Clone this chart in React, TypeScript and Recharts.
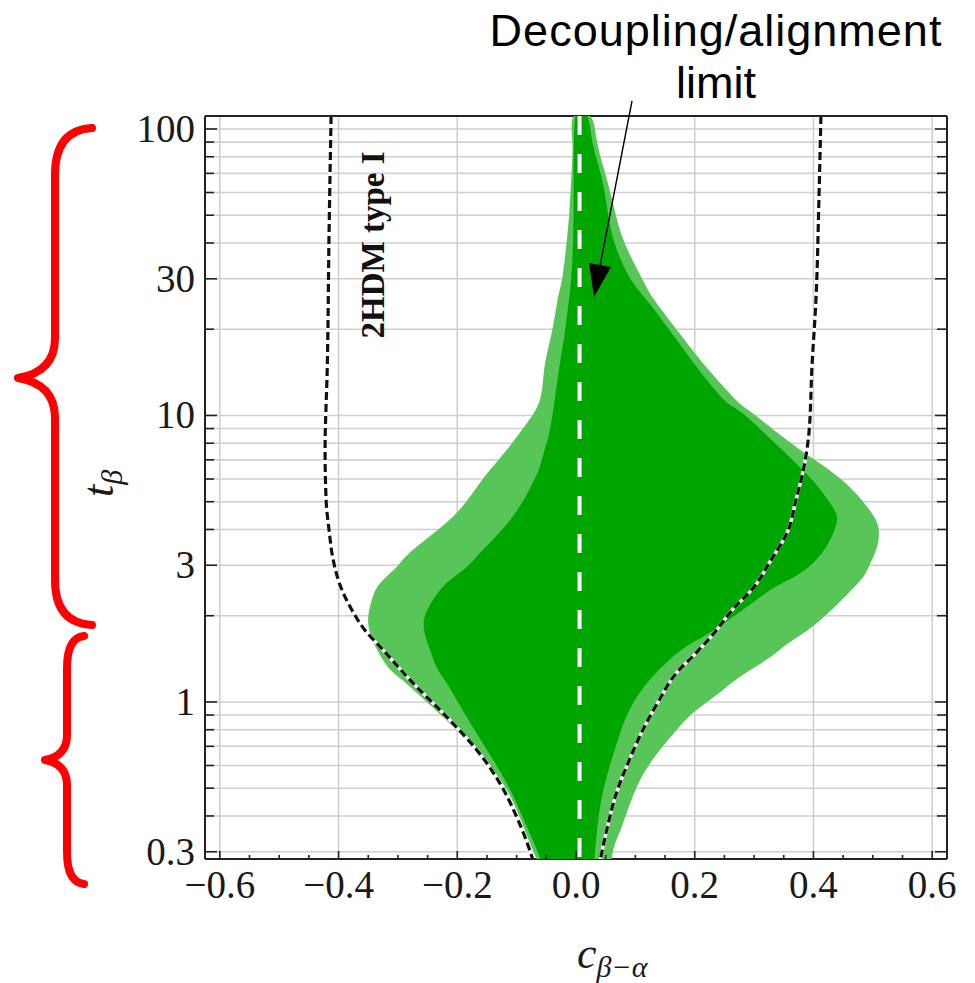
import React from 'react';
import { ComposedChart, Scatter, XAxis, YAxis, CartesianGrid } from 'recharts';

const W = 975;
const H = 983;

type Pt = { x: number; y: number };

// c_{β−α} axis
const xMajorTicks = [-0.6, -0.4, -0.2, 0, 0.2, 0.4, 0.6];
const xMajorLabels = ['−0.6', '−0.4', '−0.2', '0.0', '0.2', '0.4', '0.6'];
const xMinorTicks = [
  -0.55, -0.5, -0.45, -0.35, -0.3, -0.25, -0.15, -0.1, -0.05,
  0.05, 0.1, 0.15, 0.25, 0.3, 0.35, 0.45, 0.5, 0.55,
];
const xDomain: [number, number] = [-0.625, 0.625];

// t_β axis (log)
const yMajorTicks = [0.3, 1, 3, 10, 30, 100];
const yMajorLabels = ['0.3', '1', '3', '10', '30', '100'];
const yMinorTicks = [0.4, 0.5, 0.6, 0.7, 0.8, 0.9, 2, 4, 5, 6, 7, 8, 9, 20, 40, 50, 60, 70, 80, 90];
const yDomain: [number, number] = [0.283, 111];

// alignment limit line (c_{β−α} ≈ 0)
const alignmentLine: Pt[] = [
  { x: 0.006, y: 0.283 },
  { x: 0.006, y: 111 },
];

// 2σ allowed region (outer, light green): left edge bottom→top, then right edge top→bottom
const outerRegion: Pt[] = [
  { x: -0.066, y: 0.283 }, { x: -0.073, y: 0.305 }, { x: -0.095, y: 0.397 }, { x: -0.124, y: 0.522 },
  { x: -0.169, y: 0.68 }, { x: -0.224, y: 0.886 }, { x: -0.287, y: 1.165 }, { x: -0.317, y: 1.325 },
  { x: -0.335, y: 1.52 }, { x: -0.347, y: 1.74 }, { x: -0.35, y: 1.98 }, { x: -0.344, y: 2.27 },
  { x: -0.33, y: 2.6 }, { x: -0.302, y: 2.96 }, { x: -0.275, y: 3.39 }, { x: -0.208, y: 4.42 },
  { x: -0.162, y: 5.81 }, { x: -0.117, y: 7.57 }, { x: -0.085, y: 9.26 }, { x: -0.061, y: 11.3 },
  { x: -0.053, y: 14.8 }, { x: -0.041, y: 19.4 }, { x: -0.031, y: 25.3 }, { x: -0.023, y: 30.4 },
  { x: -0.016, y: 39.9 }, { x: -0.011, y: 52.1 }, { x: -0.008, y: 67.9 }, { x: -0.006, y: 89.2 },
  { x: -0.004, y: 111 },
  { x: 0.024, y: 111 }, { x: 0.036, y: 89.2 }, { x: 0.051, y: 67.9 }, { x: 0.065, y: 52.1 },
  { x: 0.082, y: 39.9 }, { x: 0.11, y: 30.4 }, { x: 0.132, y: 25.3 }, { x: 0.174, y: 19.4 },
  { x: 0.219, y: 14.8 }, { x: 0.27, y: 11.3 }, { x: 0.297, y: 10.2 }, { x: 0.371, y: 7.76 },
  { x: 0.448, y: 5.95 }, { x: 0.498, y: 4.57 }, { x: 0.51, y: 3.98 }, { x: 0.507, y: 3.47 },
  { x: 0.493, y: 2.96 }, { x: 0.48, y: 2.67 }, { x: 0.443, y: 2.22 }, { x: 0.398, y: 1.83 },
  { x: 0.359, y: 1.61 }, { x: 0.32, y: 1.4 }, { x: 0.275, y: 1.22 }, { x: 0.241, y: 1.075 },
  { x: 0.203, y: 0.938 }, { x: 0.174, y: 0.818 }, { x: 0.129, y: 0.628 }, { x: 0.098, y: 0.481 },
  { x: 0.077, y: 0.366 }, { x: 0.065, y: 0.317 }, { x: 0.06, y: 0.283 },
];

// 1σ allowed region (inner, dark green)
const innerRegion: Pt[] = [
  { x: -0.061, y: 0.283 }, { x: -0.066, y: 0.305 }, { x: -0.09, y: 0.397 }, { x: -0.117, y: 0.522 },
  { x: -0.15, y: 0.68 }, { x: -0.184, y: 0.886 }, { x: -0.218, y: 1.165 }, { x: -0.235, y: 1.325 },
  { x: -0.246, y: 1.52 }, { x: -0.255, y: 1.74 }, { x: -0.255, y: 1.98 }, { x: -0.241, y: 2.27 },
  { x: -0.218, y: 2.6 }, { x: -0.184, y: 2.96 }, { x: -0.157, y: 3.39 }, { x: -0.107, y: 4.42 },
  { x: -0.073, y: 5.81 }, { x: -0.061, y: 6.61 }, { x: -0.053, y: 7.57 }, { x: -0.045, y: 8.68 },
  { x: -0.036, y: 11.3 }, { x: -0.028, y: 14.8 }, { x: -0.019, y: 19.4 }, { x: -0.012, y: 25.3 },
  { x: -0.008, y: 30.4 }, { x: -0.004, y: 52.1 }, { x: -0.001, y: 111 },
  { x: 0.019, y: 111 }, { x: 0.028, y: 89.2 }, { x: 0.043, y: 67.9 }, { x: 0.053, y: 52.1 },
  { x: 0.065, y: 39.9 }, { x: 0.09, y: 30.4 }, { x: 0.119, y: 25.3 }, { x: 0.161, y: 19.4 },
  { x: 0.203, y: 14.8 }, { x: 0.25, y: 11.3 }, { x: 0.28, y: 10.2 }, { x: 0.342, y: 7.76 },
  { x: 0.398, y: 5.95 }, { x: 0.432, y: 4.8 }, { x: 0.439, y: 4.2 }, { x: 0.421, y: 3.47 },
  { x: 0.392, y: 2.96 }, { x: 0.359, y: 2.67 }, { x: 0.32, y: 2.4 }, { x: 0.241, y: 1.83 },
  { x: 0.196, y: 1.61 }, { x: 0.157, y: 1.4 }, { x: 0.107, y: 1.075 }, { x: 0.078, y: 0.818 },
  { x: 0.06, y: 0.628 }, { x: 0.045, y: 0.481 }, { x: 0.036, y: 0.366 }, { x: 0.031, y: 0.283 },
];

// 2HDM type I boundaries
const type1Left: Pt[] = [
  { x: -0.4126, y: 111 }, { x: -0.416, y: 43.3 }, { x: -0.419, y: 14.8 }, { x: -0.4227, y: 7.57 },
  { x: -0.421, y: 5.07 }, { x: -0.416, y: 3.98 }, { x: -0.409, y: 3.13 }, { x: -0.3975, y: 2.56 },
  { x: -0.3773, y: 2.09 }, { x: -0.3555, y: 1.78 }, { x: -0.3252, y: 1.52 }, { x: -0.2748, y: 1.165 },
  { x: -0.2176, y: 0.886 }, { x: -0.1672, y: 0.68 }, { x: -0.1286, y: 0.522 }, { x: -0.1, y: 0.397 },
  { x: -0.0782, y: 0.305 }, { x: -0.0731, y: 0.283 },
];
const type1Right: Pt[] = [
  { x: 0.4126, y: 111 }, { x: 0.4092, y: 56.4 }, { x: 0.4042, y: 25.3 }, { x: 0.3975, y: 14.8 },
  { x: 0.3924, y: 8.68 }, { x: 0.384, y: 6.61 }, { x: 0.3706, y: 5.07 }, { x: 0.3555, y: 3.89 },
  { x: 0.3286, y: 3.13 }, { x: 0.3, y: 2.52 }, { x: 0.263, y: 2.09 }, { x: 0.2328, y: 1.74 },
  { x: 0.1992, y: 1.46 }, { x: 0.1689, y: 1.26 }, { x: 0.1403, y: 1.016 }, { x: 0.1151, y: 0.818 },
  { x: 0.0899, y: 0.628 }, { x: 0.0681, y: 0.481 }, { x: 0.0529, y: 0.366 }, { x: 0.0412, y: 0.283 },
];

const xAllTicks = [...xMajorTicks, ...xMinorTicks].sort((a, b) => a - b);
const yAllTicks = [...yMajorTicks, ...yMinorTicks].sort((a, b) => a - b);

const SERIF = "'Liberation Serif', 'Times New Roman', serif";
const SANS = "'Liberation Sans', Arial, sans-serif";
const FRAME = '#222';
const LABEL = '#1a1a1a';

const findMajor = (v: number, majors: number[]) => majors.findIndex((m) => Math.abs(m - v) < 1e-6);

const BottomTick = (props: any) => {
  const { x, y, payload } = props;
  const i = findMajor(payload.value, xMajorTicks);
  const len = i >= 0 ? 8 : 4;
  return (
    <g>
      <line x1={x} x2={x} y1={y} y2={y - len} stroke={FRAME} strokeWidth={1.6} />
      {i >= 0 && (
        <text x={x} y={y + 39} textAnchor="middle" fontFamily={SERIF} fontSize={39} fill={LABEL}>
          {xMajorLabels[i]}
        </text>
      )}
    </g>
  );
};

const TopTick = (props: any) => {
  const { x, y, payload } = props;
  const len = findMajor(payload.value, xMajorTicks) >= 0 ? 9 : 6;
  return <line x1={x} x2={x} y1={y} y2={y + len} stroke={FRAME} strokeWidth={1.6} />;
};

const LeftTick = (props: any) => {
  const { x, y, payload } = props;
  const i = findMajor(payload.value, yMajorTicks);
  const len = i >= 0 ? 12 : 9;
  return (
    <g>
      <line x1={x} x2={x + len} y1={y} y2={y} stroke={FRAME} strokeWidth={1.6} />
      {i >= 0 && (
        <text x={x - 10} y={y + 13} textAnchor="end" fontFamily={SERIF} fontSize={39} fill={LABEL}>
          {yMajorLabels[i]}
        </text>
      )}
    </g>
  );
};

const RightTick = (props: any) => {
  const { x, y, payload } = props;
  const len = findMajor(payload.value, yMajorTicks) >= 0 ? 12 : 10;
  return <line x1={x} x2={x - len} y1={y} y2={y} stroke={FRAME} strokeWidth={1.6} />;
};

const NoDot = () => <g />;

const axisLine = { stroke: FRAME, strokeWidth: 2 };

export default function App() {
  return (
    <div style={{ position: 'absolute', left: 0, top: 0, width: W, height: H, background: '#fff' }}>
      <ComposedChart width={W} height={H} margin={{ top: 106, right: 18, bottom: 64, left: 145 }}>
        <CartesianGrid
          stroke="#d0d0d0"
          strokeWidth={1.6}
          verticalValues={xMajorTicks}
          horizontalValues={yAllTicks}
        />
        <Scatter
          data={outerRegion}
          line={{ fill: '#57c557', stroke: 'none' }}
          lineJointType="natural"
          shape={NoDot}
          isAnimationActive={false}
        />
        <Scatter
          data={innerRegion}
          line={{ fill: '#00a600', stroke: 'none' }}
          lineJointType="natural"
          shape={NoDot}
          isAnimationActive={false}
        />
        <Scatter
          data={alignmentLine}
          line={{ stroke: '#ffffff', strokeWidth: 4, strokeDasharray: '19 19', strokeDashoffset: 36 }}
          lineJointType="linear"
          shape={NoDot}
          isAnimationActive={false}
        />
        <Scatter
          data={type1Left}
          line={{ stroke: '#fff', strokeWidth: 3.4 }}
          lineJointType="monotoneY"
          shape={NoDot}
          isAnimationActive={false}
        />
        <Scatter
          data={type1Left}
          line={{ stroke: '#111', strokeWidth: 3.2, strokeDasharray: '8 4' }}
          lineJointType="monotoneY"
          shape={NoDot}
          isAnimationActive={false}
        />
        <Scatter
          data={type1Right}
          line={{ stroke: '#fff', strokeWidth: 3.4 }}
          lineJointType="monotoneY"
          shape={NoDot}
          isAnimationActive={false}
        />
        <Scatter
          data={type1Right}
          line={{ stroke: '#111', strokeWidth: 3.2, strokeDasharray: '8 4' }}
          lineJointType="monotoneY"
          shape={NoDot}
          isAnimationActive={false}
        />
        <XAxis
          type="number"
          dataKey="x"
          domain={xDomain}
          allowDataOverflow
          ticks={xAllTicks}
          interval={0}
          tickSize={0}
          tickMargin={0}
          tickLine={false}
          axisLine={axisLine}
          tick={BottomTick}
          height={60}
        />
        <XAxis
          xAxisId="top"
          orientation="top"
          type="number"
          domain={xDomain}
          allowDataOverflow
          ticks={xAllTicks}
          interval={0}
          tickSize={0}
          tickMargin={0}
          tickLine={false}
          axisLine={axisLine}
          tick={TopTick}
          height={10}
        />
        <YAxis
          type="number"
          dataKey="y"
          scale="log"
          domain={yDomain}
          allowDataOverflow
          ticks={yAllTicks}
          interval={0}
          tickSize={0}
          tickMargin={0}
          tickLine={false}
          axisLine={axisLine}
          tick={LeftTick}
          width={60}
        />
        <YAxis
          yAxisId="right"
          orientation="right"
          type="number"
          scale="log"
          domain={yDomain}
          allowDataOverflow
          ticks={yAllTicks}
          interval={0}
          tickSize={0}
          tickMargin={0}
          tickLine={false}
          axisLine={axisLine}
          tick={RightTick}
          width={10}
        />
      </ComposedChart>
      <svg
        width={W}
        height={H}
        style={{ position: 'absolute', left: 0, top: 0, pointerEvents: 'none' }}
      >
        <text
          x={716}
          y={46}
          textAnchor="middle"
          fontFamily={SANS}
          fontSize={45}
          letterSpacing={1}
          fill="#000"
        >
          Decoupling/alignment
        </text>
        <text x={716} y={98} textAnchor="middle" fontFamily={SANS} fontSize={45} fill="#000">
          limit
        </text>
        <line x1={632} y1={101} x2={600} y2={266} stroke="#000" strokeWidth={1.4} />
        <polygon points="594,297 611,267 589,263" fill="#000" />

        <text
          transform="translate(384,245) rotate(-90)"
          textAnchor="middle"
          fontFamily={SERIF}
          fontWeight="bold"
          fontSize={33}
          fill="#111"
        >
          2HDM type I
        </text>

        <text x={577} y={968} fontFamily={SERIF} fontStyle="italic" fontSize={44} fill={LABEL}>
          c
          <tspan fontSize={30} dy={9}>β−α</tspan>
        </text>
        <text
          transform="translate(113,497) rotate(-90)"
          fontFamily={SERIF}
          fontStyle="italic"
          fontSize={44}
          fill={LABEL}
        >
          t
          <tspan fontSize={30} dy={9}>β</tspan>
        </text>

        <path
          d="M 92 128 Q 55 130 55 175 L 55 338 Q 55 372 18 378 Q 55 384 55 418 L 55 580 Q 55 623 92 625"
          fill="none"
          stroke="#ff0000"
          strokeWidth={8}
          strokeLinecap="round"
          strokeLinejoin="round"
        />
        <path
          d="M 84 636 Q 67 638 67 668 L 67 735 Q 67 756 45 760 Q 67 764 67 785 L 67 852 Q 67 882 84 884"
          fill="none"
          stroke="#ff0000"
          strokeWidth={8}
          strokeLinecap="round"
          strokeLinejoin="round"
        />
      </svg>
    </div>
  );
}
